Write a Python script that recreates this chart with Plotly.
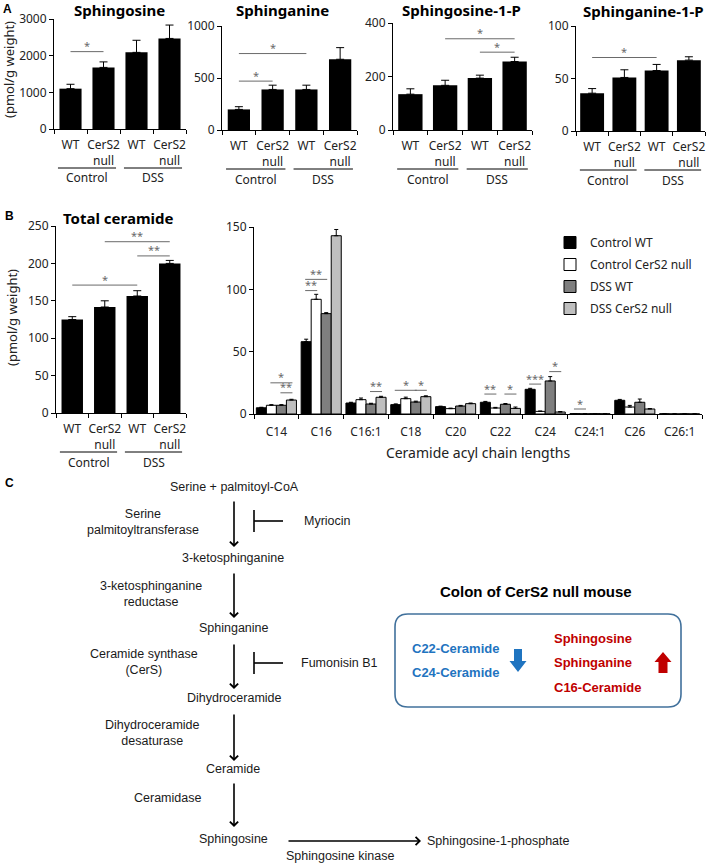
import plotly.graph_objects as go

W, H = 709, 864


def px(v):
    return v / W


def py(v):
    return 1 - v / H


FONT = "Noto Sans"
ARIAL = "Liberation Sans"
SIG_COLOR = "#6a6a6a"

# ---------------- data ----------------
group_labels = ["WT", "CerS2<br>null", "WT", "CerS2<br>null"]
condition_labels = ["Control", "DSS"]

sphingosine = [1100, 1680, 2090, 2470]
sphingosine_err = [120, 150, 330, 365]
sphinganine = [198, 390, 390, 680]
sphinganine_err = [26, 41, 41, 112]
s1p = [134, 167, 194, 256]
s1p_err = [20, 19, 11, 16]
sa1p = [36, 51, 57.6, 67.5]
sa1p_err = [4.4, 7.3, 5.8, 3.2]
total_ceramide = [125, 141.7, 156.4, 200]
total_ceramide_err = [3.8, 8.3, 7.1, 4]

# significance: (group i, group j, level, label)
sig_sphingosine = [(1, 2, 2110, "*")]
sig_sphinganine = [(1, 2, 470, "*"), (1, 3, 735, "*")]
sig_s1p = [(2, 4, 341, "*"), (3, 4, 291, "*")]
sig_sa1p = [(1, 3, 70, "*")]
sig_total = [(1, 3, 171, "*"), (2, 4, 229, "**"), (3, 4, 210, "**")]

chain_lengths = ["C14", "C16", "C16:1", "C18", "C20", "C22", "C24", "C24:1", "C26", "C26:1"]
series_names = ["Control WT", "Control CerS2 null", "DSS WT", "DSS CerS2 null"]
ctrl_wt = [5.0, 58, 8.8, 7.5, 5.9, 9.4, 19.8, 0.3, 11.0, 0.2]
ctrl_wt_err = [0.4, 2.0, 0.6, 0.6, 0.4, 0.7, 0.8, 0.1, 0.7, 0.1]
ctrl_ko = [7.0, 92, 11.5, 12.3, 4.3, 4.8, 2.1, 0.2, 5.6, 0.1]
ctrl_ko_err = [0.5, 4.0, 1.3, 1.2, 0.4, 0.5, 0.3, 0.1, 1.3, 0.1]
dss_wt = [7.0, 80.5, 8.0, 9.6, 6.4, 7.8, 26.5, 0.3, 9.4, 0.2]
dss_wt_err = [0.5, 0.8, 0.6, 0.7, 0.5, 0.6, 3.5, 0.1, 2.6, 0.1]
dss_ko = [11.2, 143, 13.4, 13.9, 8.3, 4.5, 1.6, 0.2, 4.0, 0.1]
dss_ko_err = [0.6, 5.0, 0.8, 0.7, 0.5, 1.1, 0.4, 0.1, 0.4, 0.1]
chain_series = [ctrl_wt, ctrl_ko, dss_wt, dss_ko]
chain_errs = [ctrl_wt_err, ctrl_ko_err, dss_wt_err, dss_ko_err]
chain_colors = ["#000000", "#ffffff", "#7f7f7f", "#bfbfbf"]

# (category, bar i, bar j, level, label)
sig_chain = [
    ("C14", 1, 3, 25, "*"), ("C14", 2, 3, 17, "**"),
    ("C16", 1, 3, 160, "**"), ("C16", 2, 3, 153, "**"),
    ("C16", 0, 2, 108, "**"), ("C16", 0, 1, 99, "**"),
    ("C16:1", 2, 3, 18, "**"),
    ("C18", 0, 2, 19, "*"), ("C18", 2, 3, 19, "*"),
    ("C22", 0, 1, 16, "**"), ("C22", 2, 3, 16, "*"),
    ("C24", 0, 1, 24, "***"), ("C24", 2, 3, 34, "*"),
    ("C24:1", 0, 1, 4, "*"),
]

fig = go.Figure()
shapes = []
annotations = []

# ---------------- simple 4-bar panels ----------------
panels = [
    # title, values, errs, ymax, dtick, sigs, xdom px, ydom px (top,bottom), bar width, title x, title y
    ("Sphingosine", sphingosine, sphingosine_err, 3000, 1000, sig_sphingosine, (54, 186), (19, 129), 0.67, 120, 10),
    ("Sphinganine", sphinganine, sphinganine_err, 1000, 500, sig_sphinganine, (222, 357), (26, 130), 0.66, 282, 10),
    ("Sphingosine-1-P", s1p, s1p_err, 400, 200, sig_s1p, (393, 532), (23, 130), 0.70, 461, 10),
    ("Sphinganine-1-P", sa1p, sa1p_err, 100, 50, sig_sa1p, (576, 705), (26, 131), 0.74, 643, 11),
    ("Total ceramide", total_ceramide, total_ceramide_err, 250, 50, sig_total, (56, 186), (226, 413), 0.66, 118, 218),
]

layout_axes = {}
xs = [1, 2, 3, 4]
for k, (title, vals, errs, ymax, dtick, sigs, xd, yd, bw, tx, ty) in enumerate(panels):
    n = k + 1
    xa = "x" if n == 1 else f"x{n}"
    ya = "y" if n == 1 else f"y{n}"
    fig.add_trace(go.Bar(
        x=xs, y=vals, width=bw, offset=-bw / 2,
        marker=dict(color="black", line=dict(width=0)),
        error_y=dict(type="data", array=errs, arrayminus=[0] * 4, symmetric=False,
                     color="black", thickness=1, width=4),
        xaxis=xa, yaxis=ya, showlegend=False,
    ))
    layout_axes["xaxis" if n == 1 else f"xaxis{n}"] = dict(
        domain=[px(xd[0]), px(xd[1])], anchor=ya, range=[0.5, 4.5], automargin=False,
        tickmode="array", tickvals=xs, ticktext=group_labels, ticks="",
        ticklabelstandoff=5,
        minor=dict(tickmode="array", tickvals=[0.5, 1.5, 2.5, 3.5, 4.5], ticks="outside",
                   ticklen=4, tickcolor="black", tickwidth=1, showgrid=False),
        showline=True, linecolor="black", linewidth=1, showgrid=False, zeroline=False,
        tickfont=dict(family=FONT, size=12, color="#222"), fixedrange=True,
    )
    layout_axes["yaxis" if n == 1 else f"yaxis{n}"] = dict(
        domain=[py(yd[1]), py(yd[0])], anchor=xa, range=[0, ymax], dtick=dtick, automargin=False,
        ticks="outside", ticklen=4, tickcolor="black",
        showline=True, linecolor="black", linewidth=1, showgrid=False, zeroline=False,
        tickfont=dict(family=FONT, size=12, color="#222"), fixedrange=True,
    )
    # significance brackets
    for (i, j, lev, lab) in sigs:
        shapes.append(dict(type="line", xref=xa, yref=ya, x0=i, x1=j, y0=lev, y1=lev,
                           line=dict(color=SIG_COLOR, width=1)))
        annotations.append(dict(xref=xa, yref=ya, x=(i + j) / 2, y=lev, text=lab,
                                showarrow=False, xanchor="center", yanchor="middle", yshift=6,
                                font=dict(family=FONT, size=11, color=SIG_COLOR)))
    # condition underlines and labels
    yb = yd[1]
    for c, lab in enumerate(condition_labels):
        cx = 1.5 + 2 * c
        shapes.append(dict(type="line", xref=xa, yref="paper", x0=cx - 0.88, x1=cx + 0.88,
                           y0=py(yb + 39), y1=py(yb + 39), line=dict(color="black", width=1)))
        annotations.append(dict(xref=xa, yref="paper", x=cx, y=py(yb + 49), text=lab,
                                showarrow=False, xanchor="center", yanchor="middle",
                                font=dict(family=FONT, size=12, color="#222")))
    annotations.append(dict(xref="paper", yref="paper", x=px(tx), y=py(ty),
                            text=f"<b>{title}</b>", showarrow=False, xanchor="center", yanchor="middle",
                            font=dict(family=FONT, size=15, color="black")))

# y titles
for (yx, yy) in [(9, 70), (12, 318)]:
    annotations.append(dict(xref="paper", yref="paper", x=px(yx), y=py(yy), text="(pmol/g weight)",
                            textangle=-90, showarrow=False, xanchor="center", yanchor="middle",
                            font=dict(family=FONT, size=13, color="#222")))

# ---------------- grouped chain-length panel ----------------
for s in range(4):
    fig.add_trace(go.Bar(
        x=chain_lengths, y=chain_series[s], name=series_names[s],
        marker=dict(color=chain_colors[s], line=dict(color="black", width=1)),
        error_y=dict(type="data", array=chain_errs[s], arrayminus=[0] * 10, symmetric=False,
                     color="black", thickness=1, width=2),
        xaxis="x6", yaxis="y6", legendgroup=f"g{s}",
    ))
BARGAP = 0.105
bw6 = (1 - BARGAP) / 4
layout_axes["xaxis6"] = dict(
    domain=[px(254), px(702)], anchor="y6", type="category", range=[-0.5, 9.5], automargin=False,
    tickson="boundaries", ticks="outside", ticklen=4, tickcolor="black", ticklabelstandoff=7,
    showline=True, linecolor="black", linewidth=1, showgrid=False, zeroline=False,
    tickfont=dict(family=FONT, size=12, color="#222"), fixedrange=True,
    title=dict(text="Ceramide acyl chain lengths", standoff=8,
               font=dict(family=FONT, size=14, color="#222")),
)
layout_axes["yaxis6"] = dict(
    domain=[py(414), py(227)], anchor="x6", range=[0, 150], dtick=50, automargin=False,
    ticks="outside", ticklen=4, tickcolor="black",
    showline=True, linecolor="black", linewidth=1, showgrid=False, zeroline=False,
    tickfont=dict(family=FONT, size=12, color="#222"), fixedrange=True,
)
for (cat, i, j, lev, lab) in sig_chain:
    ci = chain_lengths.index(cat)
    x0 = ci + (i - 1.5) * bw6
    x1 = ci + (j - 1.5) * bw6
    shapes.append(dict(type="line", xref="x6", yref="y6", x0=x0 - 0.1 * bw6, x1=x1 + 0.1 * bw6,
                       y0=lev, y1=lev, line=dict(color=SIG_COLOR, width=1)))
    annotations.append(dict(xref="x6", yref="y6", x=(x0 + x1) / 2, y=lev, text=lab,
                            showarrow=False, xanchor="center", yanchor="middle", yshift=6,
                            font=dict(family=FONT, size=11, color=SIG_COLOR)))

# panel letters
for (lab, lx, ly) in [("A", 7, 9), ("B", 9, 216), ("C", 9, 483)]:
    annotations.append(dict(xref="paper", yref="paper", x=px(lx), y=py(ly), text=f"<b>{lab}</b>",
                            showarrow=False, xanchor="center", yanchor="middle",
                            font=dict(family=ARIAL, size=12, color="black")))

# ---------------- panel C: pathway ----------------
pathway_texts = [
    ("Serine + palmitoyl-CoA", 234, 487, "center"),
    ("Serine<br>palmitoyltransferase", 143, 522, "center"),
    ("Myriocin", 302, 521, "left"),
    ("3-ketosphinganine", 233, 558, "center"),
    ("3-ketosphinganine<br>reductase", 151, 594, "center"),
    ("Sphinganine", 234, 628, "center"),
    ("Ceramide synthase<br>(CerS)", 144, 662, "center"),
    ("Fumonisin B1", 299, 663, "left"),
    ("Dihydroceramide", 234, 698, "center"),
    ("Dihydroceramide<br>desaturase", 152, 733, "center"),
    ("Ceramide", 233, 769, "center"),
    ("Ceramidase", 167, 798, "center"),
    ("Sphingosine", 233, 839, "center"),
    ("Sphingosine-1-phosphate", 425, 841, "left"),
    ("Sphingosine kinase", 284, 856, "left"),
]
for (t, x, y, anc) in pathway_texts:
    annotations.append(dict(xref="paper", yref="paper", x=px(x), y=py(y), text=t,
                            showarrow=False, xanchor=anc, yanchor="middle", align="center",
                            font=dict(family=ARIAL, size=12.5, color="#1a1a1a")))

for (x, y0, y1) in [(234, 500, 547), (234, 572, 618), (234, 643, 689), (234, 713, 761), (234, 782, 827)]:
    annotations.append(dict(xref="paper", yref="paper", x=px(x), y=py(y1), ax=0, ay=y0 - y1,
                            text="", showarrow=True, arrowhead=4, arrowsize=1, arrowwidth=1.6,
                            arrowcolor="black"))
annotations.append(dict(xref="paper", yref="paper", x=px(421), y=py(841), ax=287 - 421, ay=0,
                        text="", showarrow=True, arrowhead=4, arrowsize=1, arrowwidth=1.6,
                        arrowcolor="black"))
for (x, y, x2) in [(254, 521, 283), (254, 663, 283)]:
    shapes.append(dict(type="line", xref="paper", yref="paper", x0=px(x), x1=px(x),
                       y0=py(y - 11), y1=py(y + 11), line=dict(color="black", width=1.6)))
    shapes.append(dict(type="line", xref="paper", yref="paper", x0=px(x), x1=px(x2),
                       y0=py(y), y1=py(y), line=dict(color="black", width=1.6)))


# colon summary box
def rounded_rect(x0, y0, x1, y1, r):
    P = lambda a, b: f"{px(a):.5f},{py(b):.5f}"
    return (f"M{P(x0 + r, y0)} L{P(x1 - r, y0)} Q{P(x1, y0)} {P(x1, y0 + r)} "
            f"L{P(x1, y1 - r)} Q{P(x1, y1)} {P(x1 - r, y1)} L{P(x0 + r, y1)} "
            f"Q{P(x0, y1)} {P(x0, y1 - r)} L{P(x0, y0 + r)} Q{P(x0, y0)} {P(x0 + r, y0)} Z")


shapes.append(dict(type="path", xref="paper", yref="paper", path=rounded_rect(395, 614, 681, 707, 13),
                   line=dict(color="#41719C", width=1.6), fillcolor="white"))
annotations.append(dict(xref="paper", yref="paper", x=px(536), y=py(591),
                        text="<b>Colon of CerS2 null mouse</b>", showarrow=False,
                        xanchor="center", yanchor="middle",
                        font=dict(family=ARIAL, size=15, color="black")))
BLUE = "#1F74C0"
RED = "#C00000"
for (t, y) in [("C22-Ceramide", 648), ("C24-Ceramide", 672)]:
    annotations.append(dict(xref="paper", yref="paper", x=px(455), y=py(y), text=f"<b>{t}</b>",
                            showarrow=False, xanchor="center", yanchor="middle",
                            font=dict(family=ARIAL, size=13, color=BLUE)))
for (t, y) in [("Sphingosine", 638), ("Sphinganine", 662), ("C16-Ceramide", 687)]:
    annotations.append(dict(xref="paper", yref="paper", x=px(552), y=py(y), text=f"<b>{t}</b>",
                            showarrow=False, xanchor="left", yanchor="middle",
                            font=dict(family=ARIAL, size=13, color=RED)))


def poly(pts):
    return "M" + " L".join(f"{px(a):.5f},{py(b):.5f}" for a, b in pts) + " Z"


cx = 518
shapes.append(dict(type="path", xref="paper", yref="paper", line=dict(width=0), fillcolor=BLUE,
                   path=poly([(cx - 4, 649), (cx + 4, 649), (cx + 4, 661), (cx + 8.5, 661), (cx, 672),
                              (cx - 8.5, 661), (cx - 4, 661)])))
cx = 663
shapes.append(dict(type="path", xref="paper", yref="paper", line=dict(width=0), fillcolor=RED,
                   path=poly([(cx, 652), (cx + 8.5, 662), (cx + 4.5, 662), (cx + 4.5, 673),
                              (cx - 4.5, 673), (cx - 4.5, 662), (cx - 8.5, 662)])))

fig.update_layout(
    width=W, height=H, margin=dict(l=0, r=0, t=0, b=0, autoexpand=False),
    paper_bgcolor="white", plot_bgcolor="white",
    barmode="group", bargap=BARGAP, bargroupgap=0,
    showlegend=True,
    legend=dict(x=px(550), y=py(228), xanchor="left", yanchor="top", bgcolor="rgba(0,0,0,0)",
                font=dict(family=FONT, size=12, color="#222"), tracegroupgap=3,
                itemclick=False, itemdoubleclick=False),
    shapes=shapes, annotations=annotations,
    **layout_axes,
)

fig.write_html("out.html", config={"displayModeBar": False, "staticPlot": True},
               post_script="document.body.style.margin='0px';document.body.style.overflow='hidden';")
